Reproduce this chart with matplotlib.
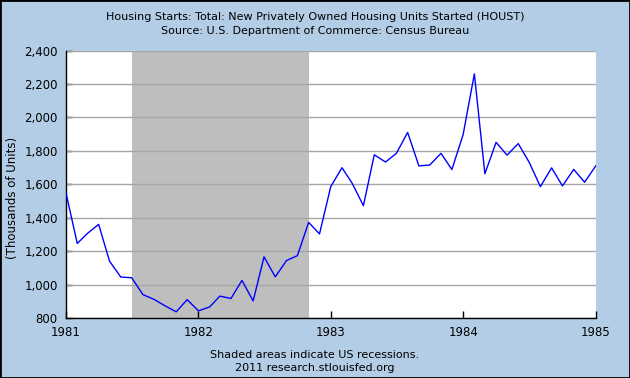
import pandas as pd
import matplotlib
matplotlib.use("Agg")
import matplotlib.pyplot as plt
import matplotlib.dates as mdates
from matplotlib.ticker import FuncFormatter
from matplotlib.patches import Rectangle

# Housing starts, thousands of units, monthly Jan 1981 - Jan 1985
months = pd.date_range("1981-01-01", "1985-01-01", freq="MS")
starts = [1547, 1246, 1306, 1360, 1140, 1045, 1041, 940, 911, 873, 837, 910,
          843, 866, 931, 917, 1025, 902, 1166, 1046, 1144, 1173, 1372, 1303,
          1586, 1699, 1606, 1472, 1776, 1733, 1785, 1910, 1710, 1715, 1785, 1688,
          1897, 2260, 1663, 1851, 1774, 1843, 1732, 1586, 1698, 1590, 1689, 1612,
          1711]
recession_start = pd.Timestamp("1981-07-01")
recession_end = pd.Timestamp("1982-11-01")
year_ticks = pd.to_datetime(["1981-01-01", "1982-01-01", "1983-01-01", "1984-01-01", "1985-01-01"])
y_ticks = [800, 1000, 1200, 1400, 1600, 1800, 2000, 2200, 2400]

bg = "#b4cde6"
fig = plt.figure(figsize=(6.3, 3.78), dpi=100, facecolor=bg)
ax = fig.add_axes([0.1048, 0.1587, 0.841, 0.7077])
ax.set_facecolor("white")

ax.axvspan(recession_start, recession_end, color="#bebebe", lw=0, zorder=1)
for v in y_ticks:
    ax.axhline(v, color="#a6a6a6", lw=1, zorder=2)
ax.plot(months, starts, color="#0000ff", lw=1, zorder=3)

ax.set_xlim(year_ticks[0], year_ticks[-1])
ax.set_ylim(800, 2400)
ax.set_xticks(year_ticks)
ax.xaxis.set_major_formatter(mdates.DateFormatter("%Y"))
ax.set_yticks(y_ticks)
ax.yaxis.set_major_formatter(FuncFormatter(lambda v, p: f"{int(v):,}"))
ax.tick_params(axis="x", direction="in", length=5, width=1, color="black",
               labelsize=8.5, pad=6)
ax.tick_params(axis="y", direction="in", length=4, width=1, color="black",
               labelsize=8.5, pad=6)

for s in ["top", "right"]:
    ax.spines[s].set_visible(False)
ax.spines["left"].set_color("black")
ax.spines["bottom"].set_color("black")
ax.spines["left"].set_linewidth(1)
ax.spines["bottom"].set_linewidth(1)

fig.text(0.0195, 0.476, "(Thousands of Units)", rotation=90, ha="center", va="center", fontsize=8.5)
fig.text(0.5, 1 - 17 / 378, "Housing Starts: Total: New Privately Owned Housing Units Started (HOUST)",
         ha="center", va="center", fontsize=8)
fig.text(0.5, 1 - 31 / 378, "Source: U.S. Department of Commerce: Census Bureau",
         ha="center", va="center", fontsize=8)
fig.text(0.5, 1 - 355 / 378, "Shaded areas indicate US recessions.",
         ha="center", va="center", fontsize=8)
fig.text(0.5, 1 - 368 / 378, "2011 research.stlouisfed.org",
         ha="center", va="center", fontsize=8)

fig.patches.append(Rectangle((0, 0), 1, 1, transform=fig.transFigure, fill=False,
                             edgecolor="black", lw=2))

plt.savefig("out.png", dpi=100, facecolor=bg)
